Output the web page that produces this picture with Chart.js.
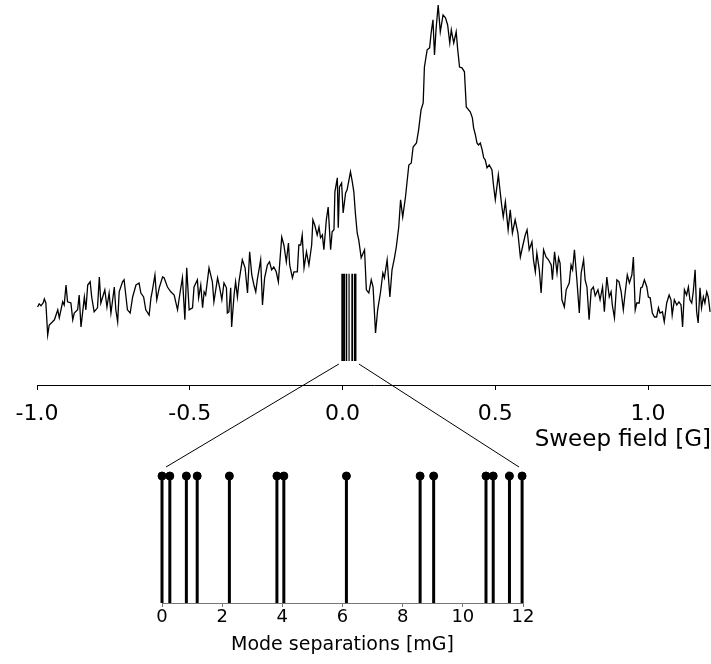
<!DOCTYPE html>
<html>
<head>
<meta charset="utf-8">
<script src="https://cdn.jsdelivr.net/npm/chart.js@4.4.1/dist/chart.umd.min.js"></script>
<style>
    html, body { margin: 0; padding: 0; background: #fff; }
    #wrap { position: relative; width: 711px; height: 664px; }
    #wrap canvas { position: absolute; left: 0; top: 0; }
</style>
</head>
<body>
<div id="wrap">
    <canvas id="sweepChart" width="711" height="456"></canvas>
    <canvas id="modeChart" width="711" height="664"></canvas>
</div>
<script>
// Sweep field [G] and signal (a.u.)
const fieldG = [
    -0.998, -0.993, -0.987, -0.980, -0.976, -0.971, -0.965, -0.960, -0.949, -0.943,
    -0.932, -0.927, -0.916, -0.911, -0.905, -0.900, -0.889, -0.883, -0.878, -0.867,
    -0.862, -0.856, -0.845, -0.840, -0.834, -0.826, -0.821, -0.813, -0.802, -0.796,
    -0.791, -0.785, -0.778, -0.771, -0.764, -0.758, -0.747, -0.742, -0.736, -0.731,
    -0.720, -0.715, -0.704, -0.695, -0.687, -0.676, -0.666, -0.660, -0.651, -0.644,
    -0.633, -0.627, -0.622, -0.614, -0.608, -0.600, -0.589, -0.584, -0.573, -0.562,
    -0.551, -0.540, -0.532, -0.524, -0.516, -0.510, -0.502, -0.491, -0.486, -0.475,
    -0.471, -0.464, -0.458, -0.453, -0.448, -0.437, -0.426, -0.421, -0.409, -0.402,
    -0.395, -0.388, -0.380, -0.377, -0.372, -0.366, -0.363, -0.355, -0.350, -0.344,
    -0.339, -0.328, -0.319, -0.311, -0.304, -0.297, -0.290, -0.284, -0.279, -0.268,
    -0.262, -0.255, -0.246, -0.239, -0.232, -0.225, -0.217, -0.210, -0.206, -0.199,
    -0.192, -0.184, -0.177, -0.173, -0.164, -0.159, -0.148, -0.143, -0.137, -0.132,
    -0.126, -0.118, -0.110, -0.101, -0.097, -0.091, -0.083, -0.077, -0.072, -0.066,
    -0.061, -0.053, -0.047, -0.039, -0.034, -0.028, -0.025, -0.017, -0.014, -0.010,
    -0.003, 0.002, 0.010, 0.015, 0.026, 0.032, 0.037, 0.042, 0.048, 0.053,
    0.061, 0.072, 0.078, 0.086, 0.094, 0.100, 0.108, 0.115, 0.124, 0.132,
    0.137, 0.146, 0.155, 0.162, 0.170, 0.176, 0.184, 0.190, 0.197, 0.206,
    0.217, 0.225, 0.231, 0.242, 0.249, 0.257, 0.264, 0.268, 0.277, 0.285,
    0.290, 0.296, 0.301, 0.306, 0.313, 0.320, 0.329, 0.337, 0.344, 0.351,
    0.356, 0.364, 0.372, 0.377, 0.383, 0.391, 0.399, 0.405, 0.418, 0.425,
    0.429, 0.435, 0.440, 0.445, 0.451, 0.457, 0.462, 0.467, 0.473, 0.480,
    0.489, 0.494, 0.500, 0.510, 0.520, 0.526, 0.533, 0.542, 0.549, 0.556,
    0.565, 0.574, 0.582, 0.589, 0.598, 0.604, 0.611, 0.620, 0.625, 0.631,
    0.636, 0.644, 0.650, 0.658, 0.666, 0.674, 0.683, 0.687, 0.694, 0.702,
    0.707, 0.712, 0.718, 0.726, 0.732, 0.742, 0.748, 0.753, 0.759, 0.767,
    0.775, 0.781, 0.789, 0.794, 0.800, 0.807, 0.814, 0.821, 0.827, 0.836,
    0.843, 0.851, 0.857, 0.865, 0.873, 0.879, 0.883, 0.890, 0.898, 0.905,
    0.912, 0.919, 0.925, 0.932, 0.939, 0.947, 0.952, 0.958, 0.963, 0.971,
    0.976, 0.981, 0.988, 0.996, 1.001, 1.007, 1.014, 1.021, 1.028, 1.034,
    1.039, 1.047, 1.053, 1.061, 1.069, 1.075, 1.079, 1.086, 1.094, 1.101,
    1.108, 1.113, 1.119, 1.126, 1.132, 1.137, 1.143, 1.148, 1.154, 1.159,
    1.164, 1.170, 1.175, 1.181, 1.186, 1.192, 1.197, 1.203
];
const signal = [
    19.0, 19.8, 19.3, 20.0, 21.0, 20.0, 12.0, 14.5, 15.3, 15.8,
    18.3, 16.3, 20.3, 19.5, 24.5, 20.3, 20.0, 15.8, 17.5, 18.3,
    22.0, 14.0, 21.5, 18.3, 24.5, 25.3, 21.5, 17.8, 18.8, 26.5,
    20.0, 21.5, 23.3, 19.0, 22.5, 17.5, 24.0, 18.3, 15.3, 22.8,
    25.3, 25.8, 18.3, 17.5, 21.5, 24.5, 25.0, 22.5, 21.5, 18.3,
    17.0, 21.3, 23.3, 27.0, 20.8, 23.8, 26.5, 26.3, 24.0, 22.8,
    22.0, 18.3, 22.5, 26.3, 15.8, 28.8, 18.3, 18.8, 24.0, 25.8,
    21.3, 24.5, 18.8, 22.8, 22.0, 28.8, 25.3, 20.3, 26.3, 23.8,
    20.8, 25.0, 23.8, 17.5, 17.8, 23.8, 14.0, 22.0, 25.3, 21.5,
    25.3, 30.8, 28.8, 22.5, 32.8, 27.0, 24.5, 22.8, 25.8, 30.8,
    19.5, 26.3, 29.5, 30.3, 28.3, 29.0, 27.8, 25.3, 29.5, 36.5,
    34.5, 30.3, 35.0, 29.5, 26.3, 27.8, 27.8, 34.5, 34.5, 37.0,
    28.8, 32.8, 29.5, 34.5, 40.8, 39.5, 37.0, 39.0, 36.3, 37.0,
    33.3, 40.8, 44.0, 33.3, 37.8, 38.3, 47.8, 51.3, 38.8, 49.0,
    50.0, 42.5, 47.5, 48.3, 52.8, 50.3, 47.8, 42.5, 37.5, 35.8,
    31.3, 33.3, 23.3, 22.5, 25.8, 24.0, 12.5, 18.3, 22.5, 27.5,
    26.3, 30.8, 21.5, 28.3, 31.3, 34.0, 39.0, 45.8, 41.5, 46.5,
    54.5, 55.0, 59.0, 60.0, 63.3, 68.3, 70.0, 79.0, 83.3, 83.8,
    87.5, 90.8, 82.0, 88.3, 94.5, 87.8, 92.0, 91.3, 89.5, 85.0,
    88.3, 85.0, 87.8, 83.3, 79.0, 78.8, 77.8, 69.0, 67.8, 66.3,
    63.8, 62.0, 60.0, 59.5, 60.0, 58.3, 56.3, 55.8, 53.8, 54.5,
    53.3, 49.5, 45.8, 52.0, 45.0, 41.5, 45.3, 38.3, 43.3, 37.5,
    40.8, 37.5, 31.5, 34.0, 37.0, 38.3, 33.3, 35.3, 30.8, 27.8,
    32.5, 28.3, 22.5, 33.3, 31.5, 30.8, 29.5, 25.8, 32.8, 27.5,
    31.3, 30.0, 20.8, 19.0, 23.3, 25.0, 29.5, 28.3, 33.3, 25.8,
    17.5, 27.5, 30.8, 25.8, 24.0, 15.8, 23.3, 24.0, 21.8, 23.3,
    20.8, 24.0, 17.8, 26.5, 21.5, 22.8, 19.5, 16.3, 25.8, 25.3,
    22.8, 18.3, 22.5, 27.0, 25.0, 27.0, 31.5, 18.3, 20.0, 20.0,
    23.8, 24.0, 25.8, 24.0, 21.5, 21.3, 17.5, 16.5, 16.5, 18.8,
    17.5, 17.8, 15.3, 20.0, 22.0, 20.8, 17.0, 20.8, 19.5, 20.3,
    19.5, 14.0, 23.3, 22.0, 24.0, 20.8, 20.0, 22.8, 28.3, 17.8,
    15.0, 23.8, 18.8, 21.5, 20.0, 22.8, 21.5, 17.8
];
const sweepTicks = [-1.0, -0.5, 0.0, 0.5, 1.0];

// Mode separations [mG]
const modeSeps = [0, 0.26, 0.81, 1.17, 2.24, 3.82, 4.05, 6.13, 8.58, 9.03, 10.77, 11.01, 11.55, 11.97];
const modeTicks = [0, 2, 4, 6, 8, 10, 12];

const FONT = "'DejaVu Sans', 'Liberation Sans', Arial, sans-serif";

// where the mode markers sit inside the sweep plot (magnified inset)
const markerOrigin = -0.002;      // G
const markerSpan = 0.0458;        // G covered by 12 mG
const markerLow = 5.5, markerHigh = 27.3;
const markerField = s => markerOrigin + s * markerSpan / 12;

const n = Math.min(fieldG.length, signal.length);
const trace = [];
for (let i = 0; i < n; i++) trace.push({ x: fieldG[i], y: signal[i] });

const markerLines = [];
modeSeps.forEach(s => {
    markerLines.push({ x: markerField(s), y: markerLow });
    markerLines.push({ x: markerField(s), y: markerHigh });
    markerLines.push({ x: markerField(s), y: null });
});

const sweepChart = new Chart(document.getElementById('sweepChart'), {
    type: 'line',
    data: {
        datasets: [
            { data: trace, borderColor: '#000', borderWidth: 1.3, pointRadius: 0, tension: 0, fill: false },
            { data: markerLines, borderColor: '#000', borderWidth: 1.2, pointRadius: 0, spanGaps: false, clip: false }
        ]
    },
    options: {
        responsive: false,
        animation: false,
        layout: { padding: { left: 37, right: 0, top: 0, bottom: 0 } },
        plugins: { legend: { display: false }, tooltip: { enabled: false } },
        scales: {
            x: {
                type: 'linear',
                min: -1.0,
                max: 1.206,
                afterBuildTicks: s => { s.ticks = sweepTicks.map(v => ({ value: v })); },
                afterFit: s => { s.height = 71; },
                grid: { display: true, drawOnChartArea: false, drawTicks: true, tickLength: 5, color: '#000', lineWidth: 1 },
                border: { display: true, color: '#000', width: 1 },
                ticks: { font: { family: FONT, size: 22 }, color: '#000', padding: 11, maxRotation: 0, callback: v => Number(v).toFixed(1) },
                title: { display: true, text: 'Sweep field [G]', align: 'end', color: '#000', font: { family: FONT, size: 23 }, padding: { top: 0, bottom: 2 } }
            },
            y: { display: false, min: -0.5, max: 95.75 }
        }
    }
});

// connecting lines from the marker block to the inset plot
const zoomLines = {
    id: 'zoomLines',
    afterDraw(chart) {
        const ctx = chart.ctx;
        const sx = sweepChart.scales.x, sy = sweepChart.scales.y;
        const mx = chart.scales.x;
        const yStart = sy.getPixelForValue(markerLow) + 3;
        const yEnd = chart.chartArea.top - 9;
        ctx.save();
        ctx.strokeStyle = '#000';
        ctx.lineWidth = 1;
        ctx.beginPath();
        ctx.moveTo(sx.getPixelForValue(markerField(0)) - 3, yStart);
        ctx.lineTo(mx.getPixelForValue(modeTicks[0]) + 4, yEnd);
        ctx.moveTo(sx.getPixelForValue(markerField(12)) + 3, yStart);
        ctx.lineTo(mx.getPixelForValue(modeTicks[modeTicks.length - 1]) - 4, yEnd);
        ctx.stroke();
        ctx.restore();
    }
};

const stems = [];
modeSeps.forEach(s => {
    stems.push({ x: s, y: 0 });
    stems.push({ x: s, y: 1 });
    stems.push({ x: s, y: null });
});
const dots = modeSeps.map(s => ({ x: s, y: 1 }));

new Chart(document.getElementById('modeChart'), {
    type: 'line',
    data: {
        datasets: [
            { data: stems, borderColor: '#000', borderWidth: 3, pointRadius: 0, spanGaps: false, clip: false },
            { type: 'scatter', data: dots, pointRadius: 4, pointBackgroundColor: '#000', pointBorderColor: '#000', showLine: false, clip: false }
        ]
    },
    options: {
        responsive: false,
        animation: false,
        layout: { padding: { left: 162, right: 188, top: 476, bottom: 0 } },
        plugins: { legend: { display: false }, tooltip: { enabled: false } },
        scales: {
            x: {
                type: 'linear',
                min: 0,
                max: 12,
                afterBuildTicks: s => { s.ticks = modeTicks.map(v => ({ value: v })); },
                afterFit: s => { s.height = 61; },
                grid: { display: true, drawOnChartArea: false, drawTicks: true, tickLength: 4, color: '#777', lineWidth: 1 },
                border: { display: true, color: '#777', width: 1 },
                ticks: { font: { family: FONT, size: 18 }, color: '#000', padding: 0, maxRotation: 0 },
                title: { display: true, text: 'Mode separations [mG]', color: '#000', font: { family: FONT, size: 19 }, padding: { top: 0, bottom: 8 } }
            },
            y: { display: false, min: 0, max: 1 }
        }
    },
    plugins: [zoomLines]
});
</script>
</body>
</html>
